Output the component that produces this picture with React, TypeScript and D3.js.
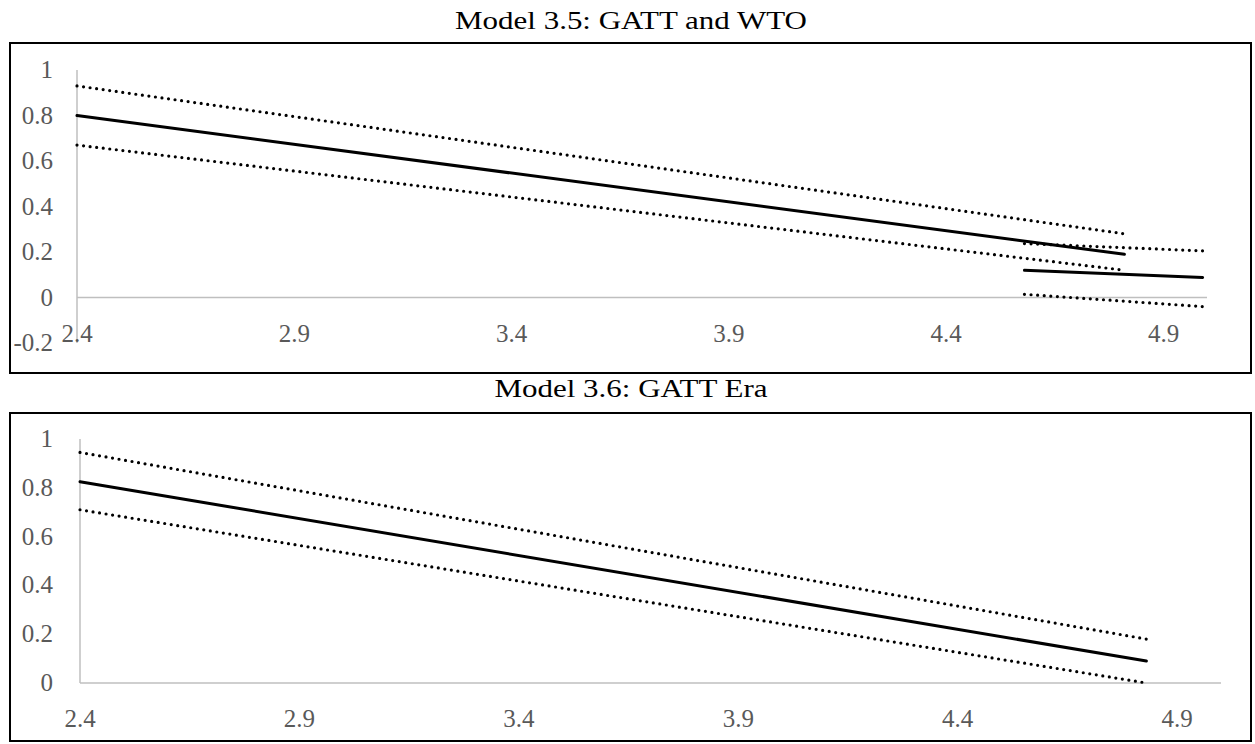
import React from "react";
import * as d3 from "d3";

// x ticks shared by both panels
const xTicks = [2.4, 2.9, 3.4, 3.9, 4.4, 4.9];
const yTicksTop = [-0.2, 0, 0.2, 0.4, 0.6, 0.8, 1];
const yTicksBottom = [0, 0.2, 0.4, 0.6, 0.8, 1];

// Model 3.5 - GATT segment
const gattX = [2.4, 4.81];
const gattEffect = [0.8, 0.19];
const gattUpper = [0.93, 0.28];
const gattLower = [0.67, 0.12];

// Model 3.5 - WTO segment
const wtoX = [4.58, 4.99];
const wtoEffect = [0.12, 0.088];
const wtoUpper = [0.237, 0.205];
const wtoLower = [0.014, -0.04];

// Model 3.6 - GATT era
const eraX = [2.4, 4.83];
const eraEffect = [0.825, 0.09];
const eraUpper = [0.945, 0.18];
const eraLower = [0.71, 0.0];

const FONT = '"Liberation Serif", "Times New Roman", serif';
const GREY = "#595959";
const AXIS = "#bfbfbf";

type Seg = { x: number[]; y: number[]; dotted: boolean };

function Panel(props: {
  title: string;
  titleWidth: number;
  titleY: number;
  top: number;
  height: number;
  xRange: [number, number];
  yDomain: [number, number];
  yRange: [number, number];
  yTicks: number[];
  segs: Seg[];
}) {
  const { title, titleWidth, titleY, top, height, xRange, yDomain, yRange, yTicks, segs } = props;
  const x = d3.scaleLinear().domain([2.4, 5.0]).range(xRange);
  const y = d3.scaleLinear().domain(yDomain).range(yRange);
  const line = d3
    .line<[number, number]>()
    .x((d) => x(d[0]))
    .y((d) => y(d[1]));
  const y0 = y(0);
  const tick = { fontFamily: FONT, fontSize: "25px" };

  return (
    <g>
      <text
        x={631}
        y={titleY}
        textAnchor="middle"
        fill="#000"
        textLength={titleWidth}
        lengthAdjust="spacingAndGlyphs"
        style={{ fontFamily: FONT, fontSize: "26px" }}
      >
        {title}
      </text>
      <rect x={10} y={top} width={1241} height={height} fill="#fff" stroke="#000" strokeWidth={2} />
      {/* axes */}
      <line x1={x(2.4)} x2={x(2.4)} y1={y(yDomain[1])} y2={y(yDomain[0])} stroke={AXIS} strokeWidth={1.5} />
      <line x1={x(2.4)} x2={x(5.0)} y1={y0} y2={y0} stroke={AXIS} strokeWidth={1.5} />
      {yTicks.map((t) => (
        <text key={"y" + t} x={53} y={y(t)} dy="0.32em" textAnchor="end" fill={GREY} style={tick}>
          {String(+t.toFixed(1))}
        </text>
      ))}
      {xTicks.map((t) => (
        <text key={"x" + t} x={x(t)} y={y0 + 44} textAnchor="middle" fill={GREY} style={tick}>
          {t.toFixed(1)}
        </text>
      ))}
      {segs.map((s, i) => (
        <path
          key={i}
          d={line(s.x.map((v, k) => [v, s.y[k]] as [number, number])) || ""}
          fill="none"
          stroke="#000"
          strokeWidth={s.dotted ? 3.2 : 3}
          strokeLinecap="round"
          strokeDasharray={s.dotted ? "0 6.6" : undefined}
        />
      ))}
    </g>
  );
}

export default function App() {
  return (
    <svg width={1255} height={744} style={{ position: "absolute", left: 0, top: 0, background: "#fff" }}>
      <Panel
        title="Model 3.5: GATT and WTO"
        titleWidth={352}
        titleY={29}
        top={43}
        height={330}
        xRange={[77, 1207]}
        yDomain={[-0.2, 1]}
        yRange={[343, 70]}
        yTicks={yTicksTop}
        segs={[
          { x: gattX, y: gattUpper, dotted: true },
          { x: gattX, y: gattEffect, dotted: false },
          { x: gattX, y: gattLower, dotted: true },
          { x: wtoX, y: wtoUpper, dotted: true },
          { x: wtoX, y: wtoEffect, dotted: false },
          { x: wtoX, y: wtoLower, dotted: true },
        ]}
      />
      <Panel
        title="Model 3.6: GATT Era"
        titleWidth={273}
        titleY={397}
        top={413}
        height={328}
        xRange={[80, 1221]}
        yDomain={[0, 1]}
        yRange={[683, 439]}
        yTicks={yTicksBottom}
        segs={[
          { x: eraX, y: eraUpper, dotted: true },
          { x: eraX, y: eraEffect, dotted: false },
          { x: eraX, y: eraLower, dotted: true },
        ]}
      />
    </svg>
  );
}
